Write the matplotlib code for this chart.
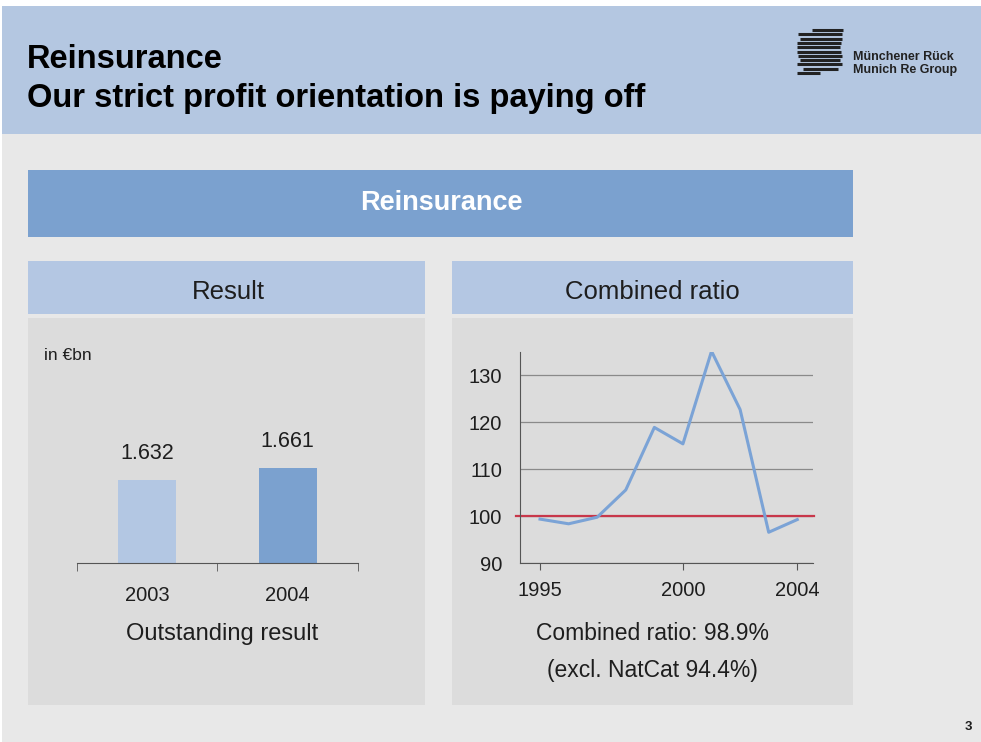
import matplotlib.pyplot as plt
from matplotlib.patches import Rectangle

plt.rcParams['font.family'] = ['Liberation Sans', 'DejaVu Sans']

# data
result_years = ['2003', '2004']
result_values = [1.632, 1.661]
result_colors = ['#b3c7e3', '#7ba1cf']

cr_years = [1995, 1996, 1997, 1998, 1999, 2000, 2001, 2002, 2003, 2004]
cr_values = [99.4, 98.4, 99.8, 105.6, 118.9, 115.4, 135.1, 122.7, 96.6, 99.3]
cr_ticks = [1995, 2000, 2004]

W, H = 981, 742
fig = plt.figure(figsize=(W / 100, H / 100), dpi=100)
fig.patch.set_facecolor('white')

# background canvas in pixel coordinates
bg = fig.add_axes([0, 0, 1, 1])
bg.set_xlim(0, W)
bg.set_ylim(H, 0)
bg.axis('off')

def box(x0, y0, x1, y1, color):
    bg.add_patch(Rectangle((x0, y0), x1 - x0, y1 - y0, facecolor=color, edgecolor='none'))

box(2, 134, W, H, '#e8e8e8')
box(2, 6, W, 134, '#b4c7e1')
box(28, 170, 853, 237, '#7ba1cf')
box(28, 261, 425, 314, '#b4c7e3')
box(452, 261, 853, 314, '#b4c7e3')
box(28, 318, 425, 705, '#dcdcdc')
box(452, 318, 853, 705, '#dcdcdc')

dark = '#1e1e1e'
bg.text(27, 60, 'Reinsurance', fontsize=23.5, fontweight='bold', color='black', va='center')
bg.text(27, 99, 'Our strict profit orientation is paying off', fontsize=23.5,
        fontweight='bold', color='black', va='center')
bg.text(441, 203, 'Reinsurance', fontsize=19.5, fontweight='bold', color='white',
        ha='center', va='center')
bg.text(228, 292, 'Result', fontsize=18.5, color=dark, ha='center', va='center')
bg.text(652, 292, 'Combined ratio', fontsize=18.5, color=dark, ha='center', va='center')
bg.text(44, 356, 'in €bn', fontsize=12.5, color=dark, va='center')
bg.text(222, 634, 'Outstanding result', fontsize=17, color=dark, ha='center', va='center')
bg.text(652, 634, 'Combined ratio: 98.9%', fontsize=16.5, color=dark, ha='center', va='center')
bg.text(652, 670, '(excl. NatCat 94.4%)', fontsize=16.5, color=dark, ha='center', va='center')
bg.text(972, 727, '3', fontsize=9.5, fontweight='bold', color=dark, ha='right', va='center')

# logo
stripes = [(812, 843), (798, 842), (800, 842), (797, 841), (797, 840), (797, 841),
           (798, 842), (800, 840), (797, 842), (803, 838), (797, 820)]
for i, (a, b) in enumerate(stripes):
    y = 30 + i * 4.3
    bg.plot([a, b], [y, y], color='#222222', lw=2.2, solid_capstyle='butt')
bg.text(853, 57, 'Münchener Rück', fontsize=9, fontweight='bold', color='#222222', va='center')
bg.text(853, 70, 'Munich Re Group', fontsize=9, fontweight='bold', color='#222222', va='center')

# result bar chart
ax1 = fig.add_axes([76.7 / W, 1 - 563.3 / H, 281.3 / W, 211.6 / H])
ax1.patch.set_alpha(0)
x = range(len(result_years))
ax1.bar(x, result_values, width=0.41, color=result_colors, bottom=0)
ax1.set_xlim(-0.5, 1.5)
ax1.set_ylim(1.425, 1.951)
for xi, v in zip(x, result_values):
    ax1.annotate(f'{v:.3f}', (xi, v), xytext=(0, 19), textcoords='offset points',
                 ha='center', va='center', fontsize=15.5, color=dark)
ax1.set_xticks(list(x))
ax1.set_xticklabels(result_years)
ax1.set_xticks([-0.5, 0.5, 1.5], minor=True)
ax1.tick_params(axis='x', which='major', length=0, pad=16, labelsize=14.5, labelcolor=dark)
ax1.tick_params(axis='x', which='minor', length=6, color='#555555')
ax1.set_yticks([])
for s in ['left', 'right', 'top']:
    ax1.spines[s].set_visible(False)
ax1.spines['bottom'].set_color('#555555')

# combined ratio line chart
ax2 = fig.add_axes([520 / W, 1 - 563.3 / H, 293 / W, 211.6 / H])
ax2.patch.set_alpha(0)
ax2.set_xlim(1994.3, 2004.55)
ax2.set_ylim(90, 135)
ax2.set_yticks([90, 100, 110, 120, 130])
ax2.yaxis.grid(True, color='#8a8a8a', lw=0.9)
ax2.set_axisbelow(True)
ax2.axhline(100, color='#c8374a', lw=1.6, xmin=-0.015, xmax=1.005, clip_on=False, zorder=2)
ax2.plot(cr_years, cr_values, color='#7ba3d6', lw=2.2, zorder=3)
ax2.set_xticks(cr_ticks)
ax2.tick_params(axis='x', length=5, pad=8, labelsize=14.5, labelcolor=dark, color='#555555')
ax2.tick_params(axis='y', length=0, pad=13, labelsize=14.5, labelcolor=dark)
for s in ['right', 'top']:
    ax2.spines[s].set_visible(False)
ax2.spines['left'].set_color('#555555')
ax2.spines['bottom'].set_color('#555555')

fig.savefig('out.png', dpi=100)
